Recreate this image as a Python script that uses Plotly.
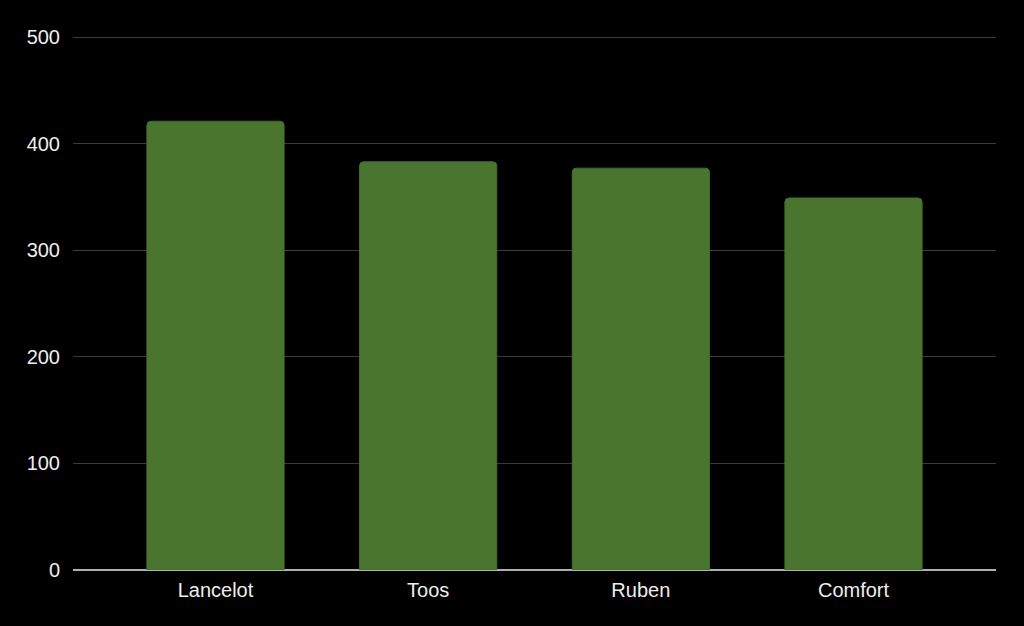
import plotly.graph_objects as go

categories = ["Lancelot", "Toos", "Ruben", "Comfort"]
values = [421, 383, 377, 349]
y_ticks = [0, 100, 200, 300, 400, 500]

fig = go.Figure(go.Bar(
    x=categories, y=values,
    marker=dict(color="#4a752f", line=dict(color="#456e2c", width=1), cornerradius=4),
))
fig.update_layout(
    width=1024, height=626,
    paper_bgcolor="#000000", plot_bgcolor="#000000",
    margin=dict(l=73, r=28, t=36, b=56),
    bargap=0.355,
    showlegend=False,
    font=dict(family="Liberation Sans, Arial, sans-serif", size=20, color="#eeeeee"),
)
fig.update_xaxes(range=[-0.67, 3.67], showgrid=False, ticks="", showline=False,
                 ticklabelstandoff=6, tickfont=dict(size=20, color="#eeeeee"))
fig.update_yaxes(range=[0, 501], tickvals=y_ticks, showgrid=True, gridcolor="#3a3a3a",
                 gridwidth=1, zeroline=True, zerolinecolor="#b0b0b0", zerolinewidth=2,
                 ticks="", ticklabelstandoff=12, tickfont=dict(size=20, color="#eeeeee"))
fig.write_html("out.html", config={"displayModeBar": False},
               post_script="document.body.style.margin='0';")
